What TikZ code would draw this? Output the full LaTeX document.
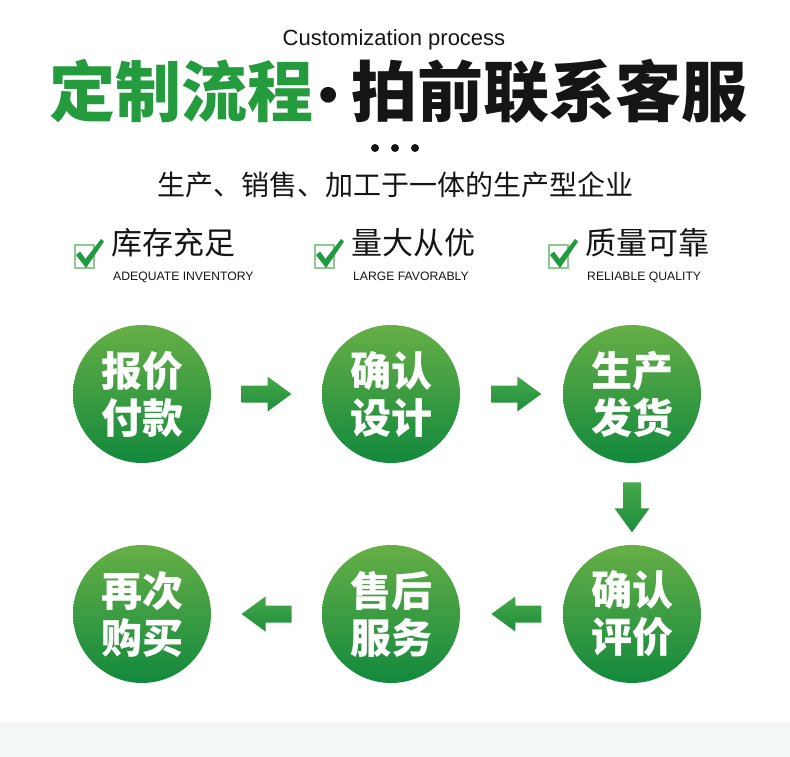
\documentclass[tikz,border=0pt]{standalone}
\usepackage{fontspec}
\setmainfont{Liberation Sans}
\newfontfamily\cjk{Noto Sans CJK SC}
\usetikzlibrary{calc}
\definecolor{titlegreen}{HTML}{249B3D}
\definecolor{gtop}{HTML}{66AF46}
\definecolor{gmid}{HTML}{3A9E45}
\definecolor{gbot}{HTML}{12893D}
\definecolor{atop}{HTML}{45A84A}
\definecolor{abot}{HTML}{1E8D3C}
\definecolor{chkgreen}{HTML}{1F9A3F}
\definecolor{boxgreen}{HTML}{8CCB90}
\definecolor{band}{HTML}{F3F7F6}
\definecolor{ink}{HTML}{151515}
\tikzset{
  stepcirc/.style={circle, minimum size=138pt, inner sep=0pt, top color=gtop, middle color=gmid, bottom color=gbot, draw=none, text=white, align=center, font=\cjk\bfseries\fontsize{41}{47}\selectfont},
  arr/.style={top color=atop, bottom color=abot, draw=none},
  itemzh/.style={inner sep=0pt, text=ink, font=\cjk\fontsize{31}{34}\selectfont},
  itemen/.style={inner sep=0pt, text=ink, font=\fontsize{12.2}{14}\selectfont},
  rarrow/.pic={\shade[arr] (-25,-8.5) -- (1,-8.5) -- (1,-17.5) -- (25,0) -- (1,17.5) -- (1,8.5) -- (-25,8.5) -- cycle;},
  darrow/.pic={\shade[arr] (-9,-25) -- (9,-25) -- (9,1) -- (17.5,1) -- (0,25) -- (-17.5,1) -- (-9,1) -- cycle;},
  chkbox/.pic={\draw[boxgreen, line width=1.2pt] (0,0) rectangle (19,23);
               \fill[chkgreen] (1,10) -- (5,6.5) -- (10.5,14) -- (26,-6) -- (29,-3.5) -- (11,23) -- cycle;}
}
\begin{document}
\begin{tikzpicture}[x=1pt,y=-1pt]
\useasboundingbox (0,0) rectangle (790,757);
\fill[white] (0,0) rectangle (790,757);
\fill[band] (0,722) rectangle (790,757);

% header
\node[inner sep=0pt, text=ink, font=\fontsize{22}{24}\selectfont] (sub) at (394,40) {Customization process};
\node[inner sep=0pt, text=titlegreen, font=\cjk\bfseries\fontsize{66}{70}\selectfont] (tg) at (181,91) {定制流程};
\node[inner sep=0pt, anchor=base, text=ink, font=\fontsize{58}{60}\selectfont] (td) at (328.5,115) {•};
\node[inner sep=0pt, text=ink, font=\cjk\bfseries\fontsize{66}{70}\selectfont] (tb) at (549,91) {拍前联系客服};
\fill[ink] (375,148) circle (4);
\fill[ink] (395,148) circle (4);
\fill[ink] (415,148) circle (4);
\node[inner sep=0pt, text=ink, font=\cjk\fontsize{28}{30}\selectfont] (slogan) at (395,185) {生产、销售、加工于一体的生产型企业};

% feature items
\pic at (75,245) {chkbox};
\node[itemzh, anchor=west] (f1) at (111,243) {库存充足};
\node[itemen, anchor=base west] (e1) at (113,280) {ADEQUATE INVENTORY};
\pic at (315,245) {chkbox};
\node[itemzh, anchor=west] (f2) at (351,243) {量大从优};
\node[itemen, anchor=base west] (e2) at (353,280) {LARGE FAVORABLY};
\pic at (549,245) {chkbox};
\node[itemzh, anchor=west] (f3) at (585,243) {质量可靠};
\node[itemen, anchor=base west] (e3) at (587,280) {RELIABLE QUALITY};

% process circles
\node[stepcirc] (c1) at (142,394) {报价\\付款};
\node[stepcirc] (c2) at (391,394) {确认\\设计};
\node[stepcirc] (c3) at (632,394) {生产\\发货};
\node[stepcirc] (c4) at (632,614) {确认\\评价};
\node[stepcirc] (c5) at (391,614) {售后\\服务};
\node[stepcirc] (c6) at (142,614) {再次\\购买};

% connectors
\coordinate (m12) at ($(c1)!0.5!(c2)$);
\coordinate (m23) at ($(c2)!0.52!(c3)$);
\coordinate (m34) at ($(c3)!0.515!(c4)$);
\coordinate (m45) at ($(c5)!0.52!(c4)$);
\coordinate (m56) at ($(c6)!0.5!(c5)$);
\pic at (m12) {rarrow};
\pic at (m23) {rarrow};
\pic at (m34) {darrow};
\pic[xscale=-1] at (m45) {rarrow};
\pic[xscale=-1] at (m56) {rarrow};
\end{tikzpicture}
\end{document}
